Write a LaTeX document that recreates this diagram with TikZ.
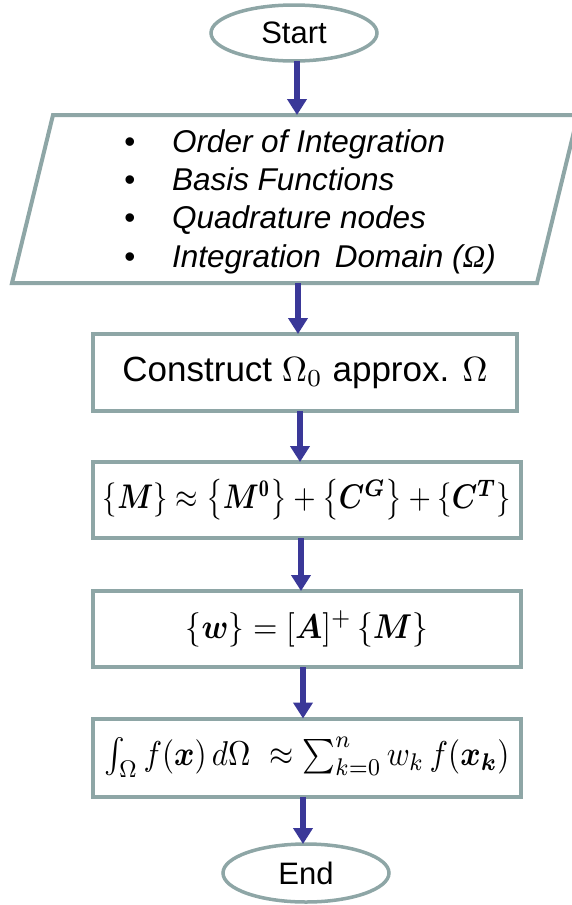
\documentclass[tikz,border=0pt]{standalone}
\usepackage{amsmath,amssymb,bm}
\usepackage{graphicx}
\usepackage{fontspec}
\newfontfamily\arial{Liberation Sans}
\newfontfamily\serif{Liberation Serif}
\usetikzlibrary{arrows.meta,shapes.geometric}
\definecolor{edgec}{RGB}{142,166,166}
\definecolor{arrowc}{RGB}{58,56,152}
\begin{document}
\begin{tikzpicture}[x=1pt,y=-1pt,
  every node/.style={inner sep=0pt, outer sep=0pt},
  boxst/.style={draw=edgec, line width=4pt, minimum height=76pt, minimum width=428pt},
  term/.style={draw=edgec, line width=3.5pt, ellipse, minimum width=166pt, minimum height=56pt,
     font=\arial\fontsize{31}{36}\selectfont},
  arr/.style={draw=arrowc, line width=6pt, -{Triangle[width=19pt,length=16pt]}},
  txt/.style={font=\arial\fontsize{31.5}{38}\selectfont\itshape, anchor=base west},
  bul/.style={font=\arial\fontsize{31.5}{38}\selectfont, anchor=base}]
\useasboundingbox (0,0) rectangle (572,905);

% terminals
\node[term] (start) at (294,33) {Start};
\node[term, minimum width=166pt, minimum height=58pt] (end) at (306,873) {End};

% input parallelogram
\coordinate (ptl) at (53,115);
\coordinate (ptr) at (578,115);
\coordinate (pbr) at (537,283);
\coordinate (pbl) at (12,283);
\draw[draw=edgec, line width=4pt] (ptl) -- (ptr) -- (pbr) -- (pbl) -- cycle;
\coordinate (pin) at (297,115);
\coordinate (pout) at (298,283);

\node[bul] (d1) at (130,152) {•};
\node[bul] (d2) at (130,190) {•};
\node[bul] (d3) at (130,228.5) {•};
\node[bul] (d4) at (130,267) {•};
\node[txt] (l1) at (172,152) {Order of Integration};
\node[txt] (l2) at (172,190) {Basis Functions};
\node[txt] (l3) at (172,228.5) {Quadrature nodes};
\node[txt] (l4) at (172,267) {Integration\, Domain ({\serif\itshape Ω})};

% process boxes
\node[boxst, minimum width=424pt, minimum height=77pt] (box1) at (305,372.5)
  {\resizebox{365pt}{!}{\arial Construct $\Omega_0$ approx. $\Omega$}};
\node[boxst] (box2) at (307,500)
  {\resizebox*{408pt}{41pt}{$\{\bm{M}\}\approx\left\{\bm{M}^{\mathbf{0}}\right\}+\left\{\bm{C}^{\bm{G}}\right\}+\{\bm{C}^{\bm{T}}\}$}};
\node[boxst] (box3) at (307,629)
  {\resizebox*{242pt}{36pt}{$\{\bm{w}\}=[\bm{A}]^{+}\,\{\bm{M}\}$}};
\node[boxst, minimum height=78pt] (box4) at (307,757.5)
  {\resizebox*{405pt}{40pt}{$\int_{\Omega} f(\bm{x})\,d\Omega\ \approx\sum_{k=0}^{n} w_k\, f(\bm{x}_{\bm{k}})$}};

% connectors
\draw[arr] (start.south -| pin) -- (pin);
\draw[arr] (pout) -- (pout |- box1.north);
\draw[arr] ([xshift=-5pt]box1.south) -- ([xshift=-5pt]box1.south |- box2.north);
\draw[arr] ([xshift=-6pt]box2.south) -- ([xshift=-6pt]box2.south |- box3.north);
\draw[arr] ([xshift=-4pt]box3.south) -- ([xshift=-4pt]box3.south |- box4.north);
\draw[arr] ([xshift=-4pt]box4.south) -- ([xshift=-4pt]box4.south |- end.north);
\end{tikzpicture}
\end{document}
